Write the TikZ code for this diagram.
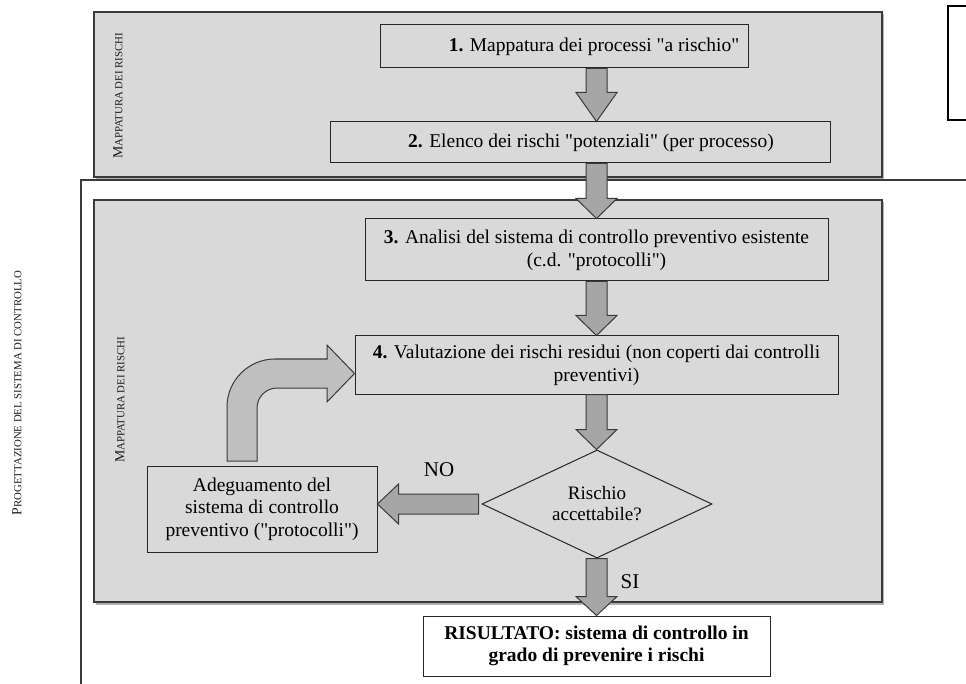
\documentclass[tikz,border=0pt]{standalone}
\usepackage{fontspec}
\setmainfont{Liberation Serif}[Ligatures=TeXOff]
\usetikzlibrary{shapes.geometric,calc}
\definecolor{panel}{HTML}{D9D9D9}
\definecolor{arrowfill}{HTML}{A6A6A6}
\definecolor{bentfill}{HTML}{BFBFBF}
\definecolor{edge}{HTML}{3A3A3A}
\newcommand{\fsc}[2]{{\fontsize{13.8}{14}\selectfont #1}{\fontsize{10.8}{12}\selectfont #2}}
\newcommand{\blockdown}[3]{%
  \draw[blockarrow] let \p1=(#1.south -| axis), \p2=(#2.north -| axis) in
   (\x1-10.5,\y1) -- (\x1-10.5,\y2+#3) -- (\x1-20.5,\y2+#3) -- (\x1,\y2)
   -- (\x1+20.5,\y2+#3) -- (\x1+10.5,\y2+#3) -- (\x1+10.5,\y1) -- cycle;}
\begin{document}
\begin{tikzpicture}[x=1pt,y=-1pt,
  panelbox/.style={draw=edge, line width=1.2pt, fill=panel},
  shadowbox/.style={fill=black!30},
  stepbox/.style={draw=black!85, line width=1pt, fill=panel, align=center,
     font=\fontsize{19.5}{23}\selectfont, inner sep=0pt},
  blockarrow/.style={draw=edge, line width=1pt, fill=arrowfill, line join=miter},
  lbl/.style={font=\fontsize{21}{24}\selectfont, inner sep=0pt},
  sidelbl/.style={rotate=90, inner sep=0pt, text=black!90}]
\path[use as bounding box, fill=white] (0,0) rectangle (966,684);
% panels
\fill[shadowbox] (96,14) rectangle (884,179.5);
\draw[panelbox] (94,12) rectangle (882,177);
\fill[shadowbox] (96,202) rectangle (884,604.5);
\draw[panelbox] (94,200) rectangle (882,602);
% frame
\draw[edge, line width=1.5pt] (966,180) -- (81,180) -- (81,684);
\draw[black, line width=1.5pt] (948,6) rectangle (980,120);
% side labels
\node[sidelbl] (lab1) at (118,96) {\fsc{M}{APPATURA DEI RISCHI}};
\node[sidelbl] (lab2) at (120,400) {\fsc{M}{APPATURA DEI RISCHI}};
\node[sidelbl] (lab3) at (17,393) {\fsc{P}{ROGETTAZIONE DEL SISTEMA DI CONTROLLO}};
% axis
\coordinate (axis) at (596.5,0);
% boxes
\node[stepbox, minimum width=368pt, minimum height=43pt] (b1) at (564,46.5)
  {\hspace*{60pt}{\bfseries 1.} Mappatura dei processi "a rischio"};
\node[stepbox, minimum width=500pt, minimum height=41pt] (b2) at (580,142.5)
  {\hspace*{22pt}{\bfseries 2.} Elenco dei rischi "potenziali" (per processo)};
\node[stepbox, minimum width=463pt, minimum height=62pt] (b3) at (596.5,250)
  {{\bfseries 3.} Analisi del sistema di controllo preventivo esistente\\(c.d. "protocolli")};
\node[stepbox, minimum width=483pt, minimum height=58pt] (b4) at (596.5,365)
  {{\bfseries 4.} Valutazione dei rischi residui (non coperti dai controlli\\preventivi)};
\node[draw=black!85, line width=1pt, fill=panel, shape=diamond, aspect=2.13,
  minimum width=230pt, minimum height=108pt, inner sep=0pt, align=center,
  font=\fontsize{19}{21}\selectfont] (dia) at (597,504) {Rischio\\accettabile?};
\node[stepbox, minimum width=230pt, minimum height=86pt,
  font=\fontsize{19.5}{22.5}\selectfont] (adeg) at (262,509)
  {Adeguamento del\\sistema di controllo\\preventivo ("protocolli")};
\node[stepbox, fill=white, minimum width=347pt, minimum height=60pt,
  font=\bfseries\fontsize{19.5}{22}\selectfont] (res) at (596.5,646)
  {RISULTATO: sistema di controllo in\\grado di prevenire i rischi};
% block arrows
\blockdown{b1}{b2}{29}
\blockdown{b2}{b3}{20}
\blockdown{b3}{b4}{20}
\blockdown{b4}{dia}{20}
\blockdown{dia}{res}{19}
\draw[blockarrow] let \p1=(dia.west), \p2=(adeg.east) in
  (\x1-3,\y1+10) -- (\x2+21,\y1+10) -- (\x2+21,\y1+20) -- (\x2,\y1)
  -- (\x2+21,\y1-20) -- (\x2+21,\y1-10) -- (\x1-3,\y1-10) -- cycle;
% bent arrow
\draw[draw=edge, line width=1pt, fill=bentfill, line join=miter]
  (227,461) -- (227,407) .. controls (227,380.5) and (248.5,359) .. (275,359)
  -- (327,359) -- (327,345) -- (b4.west |- 0,373.5) -- (327,402) -- (327,388)
  -- (277,388) .. controls (266,388) and (257,397) .. (257,408) -- (257,461) -- cycle;
% labels
\node[lbl] (no) at (439,470) {NO};
\node[lbl] (si) at (630,582) {SI};
\end{tikzpicture}
\end{document}
